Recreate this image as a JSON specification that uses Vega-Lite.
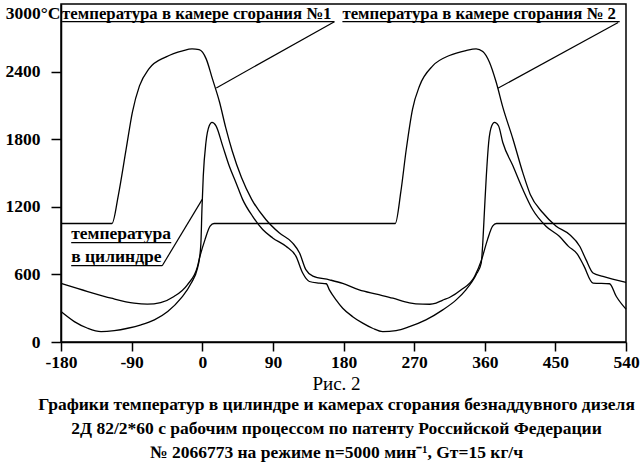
{
  "$schema": "https://vega.github.io/schema/vega-lite/v6.json",
  "autosize": "none",
  "padding": {"left": 61, "top": 4, "right": 18, "bottom": 132},
  "width": 565,
  "height": 338,
  "background": "white",
  "title": {
    "text": "Рис. 2",
    "subtitle": [
      "Графики температур в цилиндре и камерах сгорания безнаддувного дизеля",
      "2Д 82/2*60 с рабочим процессом по патенту Российской Федерации",
      "№ 2066773 на режиме n=5000 мин⁻¹, Gт=15 кг/ч"
    ],
    "orient": "bottom",
    "anchor": "middle",
    "dx": -7,
    "offset": 4,
    "font": "Liberation Serif",
    "fontSize": 19,
    "fontWeight": "normal",
    "color": "black",
    "subtitleFont": "Liberation Serif",
    "subtitleFontSize": 17.5,
    "subtitleFontWeight": "bold",
    "subtitleColor": "black",
    "subtitleLineHeight": 24,
    "subtitlePadding": 2
  },
  "config": {
    "view": {"stroke": "black", "strokeWidth": 1.5},
    "axis": {
      "grid": false,
      "title": null,
      "domainColor": "black",
      "domainWidth": 1.5,
      "tickColor": "black",
      "tickWidth": 1.5,
      "labelFont": "Liberation Serif",
      "labelFontWeight": "bold",
      "labelFontSize": 17.5,
      "labelColor": "black",
      "labelOverlap": false,
      "labelBound": false,
      "labelFlush": false
    }
  },
  "encoding": {
    "x": {
      "field": "x",
      "type": "quantitative",
      "scale": {"domain": [-180, 540], "nice": false, "zero": false},
      "axis": {
        "values": [-180, -90, 0, 90, 180, 270, 360, 450, 540],
        "tickSize": 9,
        "labelPadding": 2,
        "labelExpr": "(datum.value < 0 ? '-' : '') + abs(datum.value)"
      }
    },
    "y": {
      "field": "t",
      "type": "quantitative",
      "scale": {"domain": [0, 3000], "nice": false},
      "axis": {
        "values": [0, 600, 1200, 1800, 2400, 3000],
        "tickSize": 10,
        "labelExpr": "datum.value == 3000 ? '3000°C' : '' + datum.value",
        "labelPadding": {"condition": {"test": "datum.value == 3000", "value": -9}, "value": 11},
        "labelBaseline": {"condition": {"test": "datum.value == 3000", "value": "top"}, "value": "middle"},
        "tickOpacity": {"condition": {"test": "datum.value == 3000", "value": 0}, "value": 1}
      }
    }
  },
  "layer": [
    {
      "data": {
        "values": [
          {"s": "ch1", "x": -180, "t": 1052}, {"s": "ch1", "x": -115, "t": 1052}, {"s": "ch1", "x": -107, "t": 1300},
          {"s": "ch1", "x": -97, "t": 1711}, {"s": "ch1", "x": -89, "t": 2041}, {"s": "ch1", "x": -80, "t": 2273},
          {"s": "ch1", "x": -68, "t": 2424}, {"s": "ch1", "x": -46, "t": 2531}, {"s": "ch1", "x": -25, "t": 2585},
          {"s": "ch1", "x": -13, "t": 2602}, {"s": "ch1", "x": -4, "t": 2594}, {"s": "ch1", "x": 5, "t": 2513},
          {"s": "ch1", "x": 13, "t": 2335}, {"s": "ch1", "x": 22, "t": 2130}, {"s": "ch1", "x": 30, "t": 1900},
          {"s": "ch1", "x": 38, "t": 1700}, {"s": "ch1", "x": 50, "t": 1460}, {"s": "ch1", "x": 63, "t": 1266},
          {"s": "ch1", "x": 81, "t": 1087}, {"s": "ch1", "x": 98, "t": 969}, {"s": "ch1", "x": 115, "t": 880},
          {"s": "ch1", "x": 124, "t": 790}, {"s": "ch1", "x": 132, "t": 642}, {"s": "ch1", "x": 141, "t": 585},
          {"s": "ch1", "x": 162, "t": 552}, {"s": "ch1", "x": 179, "t": 520}, {"s": "ch1", "x": 200, "t": 463},
          {"s": "ch1", "x": 222, "t": 425}, {"s": "ch1", "x": 243, "t": 389}, {"s": "ch1", "x": 264, "t": 348},
          {"s": "ch1", "x": 281, "t": 336}, {"s": "ch1", "x": 290, "t": 335}, {"s": "ch1", "x": 298, "t": 345},
          {"s": "ch1", "x": 306, "t": 370}, {"s": "ch1", "x": 315, "t": 395}, {"s": "ch1", "x": 330, "t": 463},
          {"s": "ch1", "x": 347, "t": 582}, {"s": "ch1", "x": 356, "t": 731}, {"s": "ch1", "x": 363.5, "t": 909},
          {"s": "ch1", "x": 370, "t": 1028}, {"s": "ch1", "x": 375, "t": 1052}, {"s": "ch1", "x": 540, "t": 1052},

          {"s": "ch2", "x": -180, "t": 520}, {"s": "ch2", "x": -146, "t": 448}, {"s": "ch2", "x": -116, "t": 389},
          {"s": "ch2", "x": -87, "t": 345}, {"s": "ch2", "x": -70, "t": 336}, {"s": "ch2", "x": -53, "t": 350},
          {"s": "ch2", "x": -36, "t": 404}, {"s": "ch2", "x": -19, "t": 508}, {"s": "ch2", "x": -6, "t": 671},
          {"s": "ch2", "x": -4, "t": 731}, {"s": "ch2", "x": 3.5, "t": 909}, {"s": "ch2", "x": 10, "t": 1028},
          {"s": "ch2", "x": 15, "t": 1052}, {"s": "ch2", "x": 246, "t": 1052}, {"s": "ch2", "x": 253, "t": 1330},
          {"s": "ch2", "x": 260, "t": 1711}, {"s": "ch2", "x": 268, "t": 2068}, {"s": "ch2", "x": 277, "t": 2275},
          {"s": "ch2", "x": 294, "t": 2453}, {"s": "ch2", "x": 315, "t": 2543}, {"s": "ch2", "x": 336, "t": 2587},
          {"s": "ch2", "x": 349, "t": 2602}, {"s": "ch2", "x": 357.5, "t": 2578}, {"s": "ch2", "x": 366, "t": 2483},
          {"s": "ch2", "x": 374.6, "t": 2305}, {"s": "ch2", "x": 383, "t": 2085}, {"s": "ch2", "x": 396, "t": 1800},
          {"s": "ch2", "x": 408.5, "t": 1503}, {"s": "ch2", "x": 418, "t": 1310}, {"s": "ch2", "x": 434, "t": 1147},
          {"s": "ch2", "x": 451, "t": 1028}, {"s": "ch2", "x": 468, "t": 954}, {"s": "ch2", "x": 481, "t": 850},
          {"s": "ch2", "x": 489, "t": 731}, {"s": "ch2", "x": 498, "t": 612}, {"s": "ch2", "x": 510.6, "t": 582},
          {"s": "ch2", "x": 540, "t": 529},

          {"s": "cyl", "x": -180, "t": 270}, {"s": "cyl", "x": -163, "t": 181}, {"s": "cyl", "x": -146, "t": 122},
          {"s": "cyl", "x": -129, "t": 92}, {"s": "cyl", "x": -112, "t": 101}, {"s": "cyl", "x": -95, "t": 122},
          {"s": "cyl", "x": -78, "t": 152}, {"s": "cyl", "x": -61, "t": 196}, {"s": "cyl", "x": -44, "t": 270},
          {"s": "cyl", "x": -27, "t": 389}, {"s": "cyl", "x": -14, "t": 523}, {"s": "cyl", "x": -6, "t": 657},
          {"s": "cyl", "x": -3.8, "t": 731}, {"s": "cyl", "x": -1.7, "t": 880}, {"s": "cyl", "x": -0.4, "t": 1176},
          {"s": "cyl", "x": 1.3, "t": 1473}, {"s": "cyl", "x": 4.7, "t": 1771}, {"s": "cyl", "x": 8.9, "t": 1919},
          {"s": "cyl", "x": 12.4, "t": 1949}, {"s": "cyl", "x": 17.5, "t": 1919}, {"s": "cyl", "x": 26, "t": 1741},
          {"s": "cyl", "x": 34.4, "t": 1562}, {"s": "cyl", "x": 43, "t": 1414}, {"s": "cyl", "x": 51.4, "t": 1266},
          {"s": "cyl", "x": 64, "t": 1117}, {"s": "cyl", "x": 77, "t": 998}, {"s": "cyl", "x": 89.7, "t": 924},
          {"s": "cyl", "x": 106.7, "t": 849}, {"s": "cyl", "x": 119.5, "t": 760}, {"s": "cyl", "x": 128, "t": 612},
          {"s": "cyl", "x": 136.5, "t": 537}, {"s": "cyl", "x": 149, "t": 523}, {"s": "cyl", "x": 158, "t": 517},
          {"s": "cyl", "x": 162, "t": 463}, {"s": "cyl", "x": 170.5, "t": 374}, {"s": "cyl", "x": 179, "t": 300},
          {"s": "cyl", "x": 191.7, "t": 225}, {"s": "cyl", "x": 204.5, "t": 167}, {"s": "cyl", "x": 217, "t": 122},
          {"s": "cyl", "x": 230, "t": 92}, {"s": "cyl", "x": 247, "t": 101}, {"s": "cyl", "x": 264, "t": 136},
          {"s": "cyl", "x": 285, "t": 196}, {"s": "cyl", "x": 306.5, "t": 285}, {"s": "cyl", "x": 323.6, "t": 374},
          {"s": "cyl", "x": 336, "t": 463}, {"s": "cyl", "x": 349, "t": 597}, {"s": "cyl", "x": 355.5, "t": 701},
          {"s": "cyl", "x": 357.5, "t": 880}, {"s": "cyl", "x": 359.7, "t": 1176}, {"s": "cyl", "x": 362, "t": 1473},
          {"s": "cyl", "x": 365, "t": 1771}, {"s": "cyl", "x": 368.9, "t": 1919}, {"s": "cyl", "x": 372.4, "t": 1949},
          {"s": "cyl", "x": 377.5, "t": 1919}, {"s": "cyl", "x": 383, "t": 1771}, {"s": "cyl", "x": 396, "t": 1562},
          {"s": "cyl", "x": 408.5, "t": 1355}, {"s": "cyl", "x": 421, "t": 1176}, {"s": "cyl", "x": 438, "t": 1028},
          {"s": "cyl", "x": 455, "t": 938}, {"s": "cyl", "x": 466.7, "t": 849}, {"s": "cyl", "x": 478, "t": 780},
          {"s": "cyl", "x": 486, "t": 680}, {"s": "cyl", "x": 498, "t": 523}, {"s": "cyl", "x": 519, "t": 517},
          {"s": "cyl", "x": 527.7, "t": 404}, {"s": "cyl", "x": 540, "t": 291}
        ]
      },
      "mark": {"type": "line", "color": "black", "strokeWidth": 1.3, "interpolate": "monotone"},
      "encoding": {"detail": {"field": "s"}}
    },
    {
      "data": {
        "values": [
          {"x": -178.6, "x2": 168.4, "t": 2843, "t2": 2843},
          {"x": 168.4, "x2": 17.9, "t": 2843, "t2": 2255},
          {"x": 178.6, "x2": 532, "t": 2843, "t2": 2843},
          {"x": 530, "x2": 376.7, "t": 2835, "t2": 2252},
          {"x": -167, "x2": -39.5, "t": 882, "t2": 882},
          {"x": -167, "x2": -51, "t": 677, "t2": 677},
          {"x": -51, "x2": 0, "t": 677, "t2": 1266}
        ]
      },
      "mark": {"type": "rule", "color": "black", "strokeWidth": 1.2},
      "encoding": {"x2": {"field": "x2"}, "y2": {"field": "t2"}}
    },
    {
      "data": {
        "values": [
          {"x": -178.6, "t": 2870, "label": "температура в камере сгорания №1"},
          {"x": 178.6, "t": 2870, "label": "температура в камере сгорания № 2"}
        ]
      },
      "mark": {"type": "text", "align": "left", "baseline": "alphabetic", "font": "Liberation Serif", "fontWeight": "bold", "fontSize": 16.8, "color": "black"},
      "encoding": {"text": {"field": "label"}}
    },
    {
      "data": {
        "values": [
          {"x": -167, "t": 912, "label": "температура"},
          {"x": -167, "t": 706, "label": "в цилиндре"}
        ]
      },
      "mark": {"type": "text", "align": "left", "baseline": "alphabetic", "font": "Liberation Serif", "fontWeight": "bold", "fontSize": 17.5, "color": "black"},
      "encoding": {"text": {"field": "label"}}
    }
  ]
}
